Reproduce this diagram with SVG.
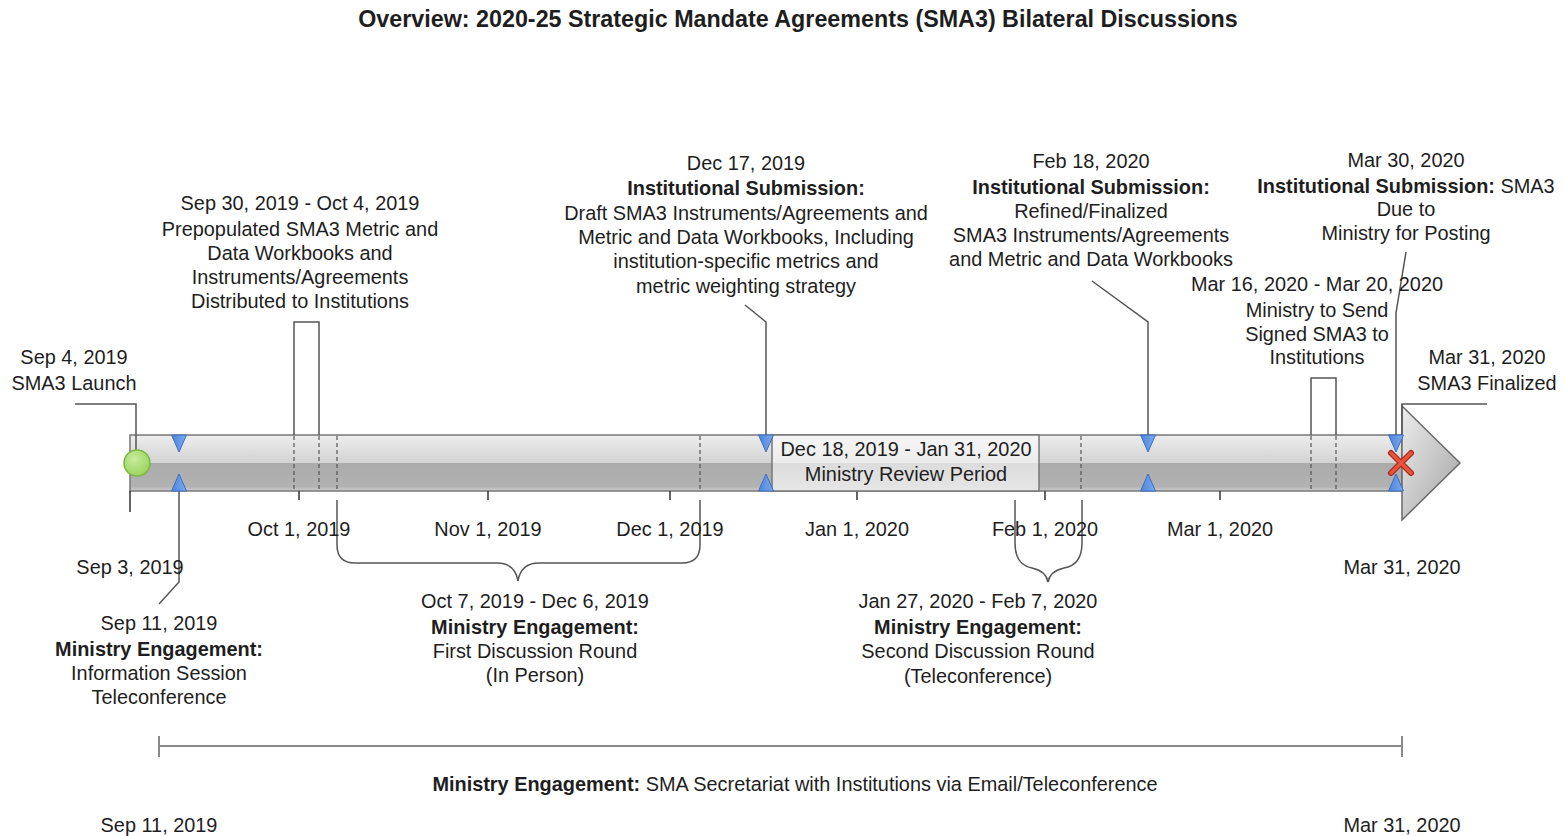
<svg xmlns="http://www.w3.org/2000/svg" width="1566" height="836" viewBox="0 0 1566 836">
  <defs>
    <linearGradient id="barFill" x1="0" y1="0" x2="0" y2="1">
      <stop offset="0" stop-color="#ededed"/>
      <stop offset="0.5" stop-color="#d3d3d3"/>
      <stop offset="0.5" stop-color="#ababab"/>
      <stop offset="0.92" stop-color="#b2b2b2"/>
      <stop offset="1" stop-color="#cfcfcf"/>
    </linearGradient>
    <linearGradient id="boxFill" x1="0" y1="0" x2="0" y2="1">
      <stop offset="0" stop-color="#f6f6f6"/>
      <stop offset="0.5" stop-color="#ececec"/>
      <stop offset="0.5" stop-color="#dcdcdc"/>
      <stop offset="1" stop-color="#e6e6e6"/>
    </linearGradient>
    <linearGradient id="headFill" x1="0" y1="0" x2="1" y2="1">
      <stop offset="0" stop-color="#ececec"/>
      <stop offset="1" stop-color="#a4a4a4"/>
    </linearGradient>
    <linearGradient id="triFill" x1="0" y1="0" x2="1" y2="0">
      <stop offset="0" stop-color="#4f86d8"/>
      <stop offset="1" stop-color="#7aaaf0"/>
    </linearGradient>
    <radialGradient id="dotFill" cx="0.4" cy="0.35" r="0.7">
      <stop offset="0" stop-color="#c8ec9c"/>
      <stop offset="1" stop-color="#98d25a"/>
    </radialGradient>
    <path id="triDown" d="M-7.5,0 L7.5,0 L0,17 Z"/>
    <path id="triUp" d="M-7.5,0 L7.5,0 L0,-17 Z"/>
    <style>
      text { font-family: "Liberation Sans", Arial, sans-serif; font-size: 19.9px; fill: #1e1e1e; text-anchor: middle; }
      .title { font-size: 23.3px; font-weight: bold; }
      .b { font-weight: bold; }
      .lead { fill: none; stroke: #555; stroke-width: 1.5; }
      .dash { fill: none; stroke: #555; stroke-width: 1.2; stroke-dasharray: 4 3; }
      .tick { fill: none; stroke: #333; stroke-width: 1.5; }
      .span { fill: none; stroke: #8a8a8a; stroke-width: 2; }
      .tri { fill: url(#triFill); stroke: #3b6fc4; stroke-width: 1; }
    </style>
  </defs>

  <rect width="1566" height="836" fill="#ffffff"/>

  <text class="title" x="798" y="27">Overview: 2020-25 Strategic Mandate Agreements (SMA3) Bilateral Discussions</text>

  <!-- timeline bar and arrow head -->
  <g id="timeline">
    <rect x="130" y="435" width="1272" height="56" fill="url(#barFill)" stroke="#777" stroke-width="1.5"/>
    <polygon points="1402,406 1460,463 1402,520" fill="url(#headFill)" stroke="#6a6a6a" stroke-width="1.5"/>
  </g>

  <!-- connectors: leaders, ranges, ticks, braces -->
  <g id="connectors">
    <!-- dashed range markers across the bar -->
    <path class="dash" d="M294,436 V491 M319,436 V491 M337,436 V491 M700,436 V491 M1081,436 V491 M1311,436 V491 M1336,436 V491"/>
    <!-- month ticks -->
    <path class="tick" d="M299,491 V500 M488,491 V500 M670,491 V500 M857,491 V500 M1045,491 V500 M1220,491 V500"/>
    <path class="tick" d="M130,491 V512"/>
    <!-- leaders -->
    <path class="lead" d="M75,404 H136 V450"/>
    <path class="lead" d="M179,491 V582 L159,604"/>
    <path class="lead" d="M294,435 V322 H319 V435"/>
    <path class="lead" d="M745,305 L766,322 V436"/>
    <path class="lead" d="M1092,281 L1148,322 V436"/>
    <path class="lead" d="M1311,435 V378 H1336 V435"/>
    <path class="lead" d="M1406,252 L1396,313 V436"/>
    <path class="lead" d="M1487,404 H1402 V436"/>
    <!-- braces below the bar -->
    <path class="lead" d="M337,500 V545 Q337,563 355,563 H497 Q515,563 518,581 Q521,563 539,563 H682 Q700,563 700,545 V500"/>
    <path class="lead" d="M1015,500 V543 Q1015,565 1032,568 Q1046,571 1048,582 Q1050,571 1064,568 Q1082,565 1082,543 V500"/>
    <!-- engagement span -->
    <path class="span" d="M159,746 H1402 M159,736 V757 M1402,736 V757"/>
  </g>

  <!-- ministry review period box -->
  <g id="review-period">
    <rect x="772" y="435" width="267" height="56" fill="url(#boxFill)" stroke="#777" stroke-width="1.5"/>
    <text x="906" y="456">Dec 18, 2019 - Jan 31, 2020</text>
    <text x="906" y="481">Ministry Review Period</text>
  </g>

  <!-- milestone markers -->
  <g id="markers">
    <use href="#triDown" class="tri" x="179" y="435"/>
    <use href="#triUp" class="tri" x="179" y="491"/>
    <use href="#triDown" class="tri" x="766" y="435"/>
    <use href="#triUp" class="tri" x="766" y="491"/>
    <use href="#triDown" class="tri" x="1148" y="435"/>
    <use href="#triUp" class="tri" x="1148" y="491"/>
    <use href="#triDown" class="tri" x="1396" y="435"/>
    <use href="#triUp" class="tri" x="1396" y="491"/>
  </g>

  <g id="launch">
    <circle cx="137" cy="463" r="13" fill="url(#dotFill)" stroke="#7cb83e" stroke-width="1.5"/>
    <text x="74" y="364">Sep 4, 2019</text>
    <text x="74" y="390">SMA3 Launch</text>
  </g>

  <g id="finalized">
    <path d="M1391,453 L1411,473 M1391,473 L1411,453" stroke="#a8281c" stroke-width="6" stroke-linecap="round"/>
    <path d="M1391,453 L1411,473 M1391,473 L1411,453" stroke="#e8533c" stroke-width="3.5" stroke-linecap="round"/>
    <text x="1487" y="364">Mar 31, 2020</text>
    <text x="1487" y="390">SMA3 Finalized</text>
  </g>

  <g id="workbooks-distributed">
    <text x="300" y="210">Sep 30, 2019 - Oct 4, 2019</text>
    <text x="300" y="236">Prepopulated SMA3 Metric and</text>
    <text x="300" y="260">Data Workbooks and</text>
    <text x="300" y="284">Instruments/Agreements</text>
    <text x="300" y="308">Distributed to Institutions</text>
  </g>

  <g id="draft-submission">
    <text x="746" y="170">Dec 17, 2019</text>
    <text class="b" x="746" y="195">Institutional Submission:</text>
    <text x="746" y="220">Draft SMA3 Instruments/Agreements and</text>
    <text x="746" y="244">Metric and Data Workbooks, Including</text>
    <text x="746" y="268">institution-specific metrics and</text>
    <text x="746" y="293">metric weighting strategy</text>
  </g>

  <g id="final-submission">
    <text x="1091" y="168">Feb 18, 2020</text>
    <text class="b" x="1091" y="194">Institutional Submission:</text>
    <text x="1091" y="218">Refined/Finalized</text>
    <text x="1091" y="242">SMA3 Instruments/Agreements</text>
    <text x="1091" y="266">and Metric and Data Workbooks</text>
  </g>

  <g id="posting-due">
    <text x="1406" y="167">Mar 30, 2020</text>
    <text x="1406" y="193"><tspan class="b">Institutional Submission:</tspan> SMA3</text>
    <text x="1406" y="216">Due to</text>
    <text x="1406" y="240">Ministry for Posting</text>
  </g>

  <g id="signed-sent">
    <text x="1317" y="291">Mar 16, 2020 - Mar 20, 2020</text>
    <text x="1317" y="317">Ministry to Send</text>
    <text x="1317" y="341">Signed SMA3 to</text>
    <text x="1317" y="364">Institutions</text>
  </g>

  <g id="axis-labels">
    <text x="299" y="536">Oct 1, 2019</text>
    <text x="488" y="536">Nov 1, 2019</text>
    <text x="670" y="536">Dec 1, 2019</text>
    <text x="857" y="536">Jan 1, 2020</text>
    <text x="1045" y="536">Feb 1, 2020</text>
    <text x="1220" y="536">Mar 1, 2020</text>
    <text x="130" y="574">Sep 3, 2019</text>
    <text x="1402" y="574">Mar 31, 2020</text>
  </g>

  <g id="info-session">
    <text x="159" y="630">Sep 11, 2019</text>
    <text class="b" x="159" y="656">Ministry Engagement:</text>
    <text x="159" y="680">Information Session</text>
    <text x="159" y="704">Teleconference</text>
  </g>

  <g id="first-round">
    <text x="535" y="608">Oct 7, 2019 - Dec 6, 2019</text>
    <text class="b" x="535" y="634">Ministry Engagement:</text>
    <text x="535" y="658">First Discussion Round</text>
    <text x="535" y="682">(In Person)</text>
  </g>

  <g id="second-round">
    <text x="978" y="608">Jan 27, 2020 - Feb 7, 2020</text>
    <text class="b" x="978" y="634">Ministry Engagement:</text>
    <text x="978" y="658">Second Discussion Round</text>
    <text x="978" y="683">(Teleconference)</text>
  </g>

  <g id="secretariat">
    <text x="795" y="791"><tspan class="b">Ministry Engagement:</tspan> SMA Secretariat with Institutions via Email/Teleconference</text>
    <text x="159" y="832">Sep 11, 2019</text>
    <text x="1402" y="832">Mar 31, 2020</text>
  </g>
</svg>
